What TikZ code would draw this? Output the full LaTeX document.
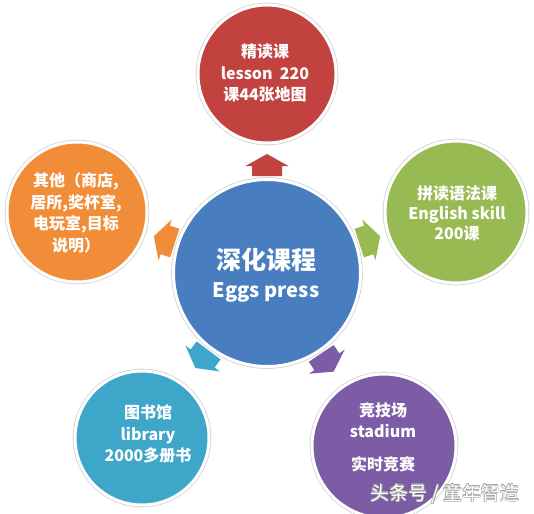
\documentclass[tikz,border=0pt]{standalone}
\usepackage{fontspec}
\setmainfont{Noto Sans CJK SC}
\usepackage{contour}
\contourlength{0.5pt}
\definecolor{redc}{RGB}{194,66,64}
\definecolor{orangec}{RGB}{241,141,56}
\definecolor{greenc}{RGB}{152,186,82}
\definecolor{bluec}{RGB}{72,126,192}
\definecolor{tealc}{RGB}{62,166,200}
\definecolor{purplec}{RGB}{124,92,164}
\tikzset{
  bubble/.style={circle, inner sep=0pt, fill=#1, draw=white, line width=3pt,
    preaction={draw=gray!35, line width=4.6pt}},
  lbl/.style={text=white, align=center, inner sep=0pt,
    font=\fontsize{16}{21.5}\selectfont\bfseries},
}
\newcommand\blockarrow[3]{%
  \fill[#3, shift={(#1)}, rotate=#2] (-11,-15) -- (-1,-15) -- (-1,-21.5) -- (11,0)
    -- (-1,21.5) -- (-1,15) -- (-11,15) -- cycle;}
\begin{document}
\begin{tikzpicture}[x=1pt, y=1pt]
\useasboundingbox[fill=white] (0,0) rectangle (534,-513);
% center
\node[bubble=bluec, minimum size=187pt] (c) at (267,-273) {};
% outer circles
\node[bubble=redc, minimum size=138pt] (top) at (267,-74) {};
\node[bubble=orangec, minimum size=140pt] (lft) at (77,-212) {};
\node[bubble=greenc, minimum size=142pt] (rgt) at (456,-212) {};
\node[bubble=tealc, minimum size=134pt] (bl) at (142,-438) {};
\node[bubble=purplec, minimum size=144pt] (br) at (384,-446) {};
% arrows
\path (c.center) ++(90:108) coordinate (a1);
\path (c.center) ++(162:108) coordinate (a2);
\path (c.center) ++(18:108) coordinate (a3);
\path (c.center) ++(233:108) coordinate (a4);
\path (c.center) ++(304:108) coordinate (a5);
\blockarrow{a1}{90}{redc}
\blockarrow{a2}{162}{orangec}
\blockarrow{a3}{18}{greenc}
\blockarrow{a4}{233}{tealc}
\blockarrow{a5}{304}{purplec}
% texts
\node[lbl] (tc) at (266,-275) {{\fontsize{25}{30}\selectfont 深化课程}\\[7pt]{\fontsize{20}{24}\selectfont Eggs press}};
\node[lbl] (tt) at (265,-73) {精读课\\lesson\ \ 220\\课44张地图};
\node[lbl] (tl) at (76,-213) {其他（商店,\\居所,奖杯室,\\电玩室,目标\\说明）};
\node[lbl, font=\fontsize{16}{20}\selectfont\bfseries] (tr) at (457,-213) {拼读语法课\\English skill\\200课};
\node[lbl] (tb) at (148,-434) {图书馆\\library\\2000多册书};
\node[lbl] (tp) at (383,-437) {竞技场\\stadium\\[11pt]实时竞赛};
% watermark
\node[inner sep=0pt, text=white, font=\fontsize{19}{22}\selectfont] (wm) at (445,-494) {\contour{gray!70}{头条号 / 童年智造}};
\end{tikzpicture}
\end{document}
